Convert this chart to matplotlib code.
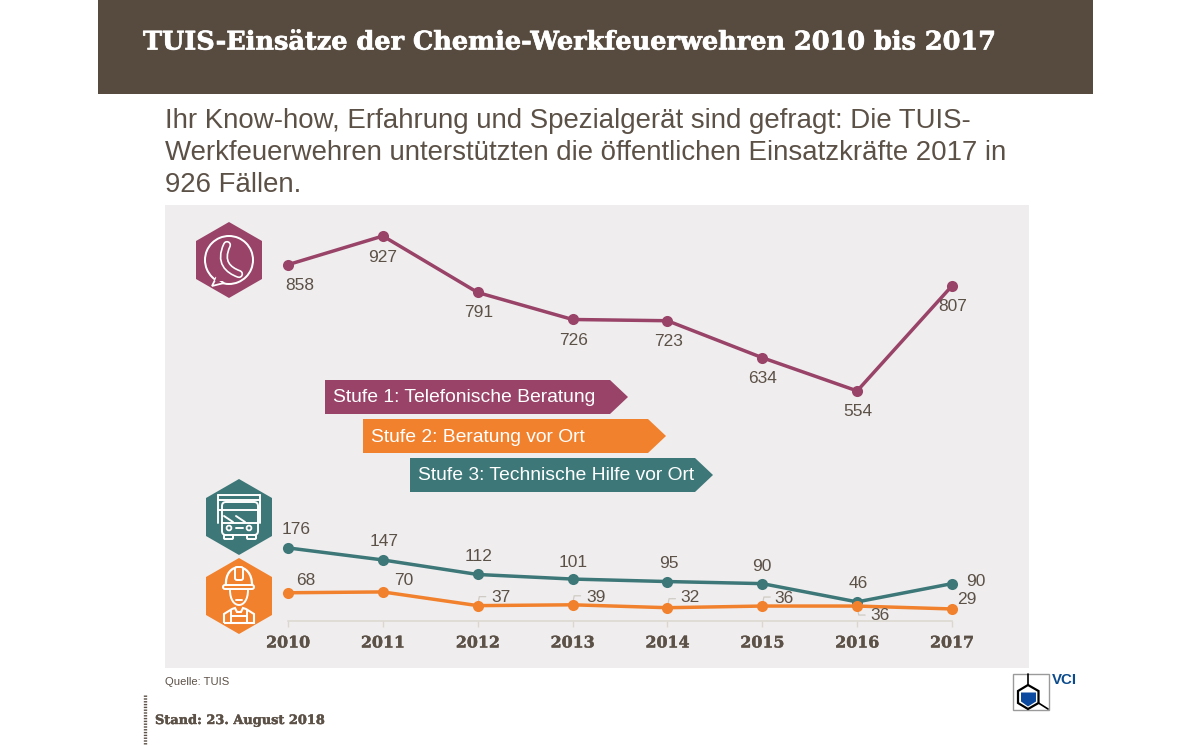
import matplotlib
matplotlib.use('Agg')
import matplotlib.pyplot as plt
import matplotlib.patheffects as pe
from matplotlib.patches import Polygon, Rectangle, Circle, FancyBboxPatch, PathPatch, Wedge
from matplotlib.path import Path

### data ##########

years = [2010, 2011, 2012, 2013, 2014, 2015, 2016, 2017]
stufe1 = [858, 927, 791, 726, 723, 634, 554, 807]
stufe2 = [68, 70, 37, 39, 32, 36, 36, 29]
stufe3 = [176, 147, 112, 101, 95, 90, 46, 90]

title = 'TUIS-Einsätze der Chemie-Werkfeuerwehren 2010 bis 2017'
subtitle = ['Ihr Know-how, Erfahrung und Spezialgerät sind gefragt: Die TUIS-',
            'Werkfeuerwehren unterstützten die öffentlichen Einsatzkräfte 2017 in',
            '926 Fällen.']
legend_labels = ['Stufe 1: Telefonische Beratung', 'Stufe 2: Beratung vor Ort', 'Stufe 3: Technische Hilfe vor Ort']

###################

brown = '#574b40'
text_col = '#5c5147'
panel = '#efedee'
purple = '#984367'
orange = '#f2812d'
teal = '#3d7778'
axis_col = '#dbd7cf'
sans = 'Liberation Sans'
serif = 'DejaVu Serif'

W, H = 1200, 746
fig = plt.figure(figsize=(12, 7.46), dpi=100, facecolor='white')

# background layer, in pixels of the picture
bg = fig.add_axes([0, 0, 1, 1])
bg.set_xlim(0, W)
bg.set_ylim(H, 0)
bg.axis('off')

bg.add_patch(Rectangle((98, 0), 995, 94, color=brown, lw=0))
bg.text(143, 42, title, family=serif, weight='bold', color='white', fontsize=18.4, va='center',
        path_effects=[pe.withStroke(linewidth=0.5, foreground='white')])
for i, line in enumerate(subtitle):
    bg.text(165, 120.5 + i * 32, line, family=sans, color=text_col, fontsize=19.93, va='center')
bg.add_patch(Rectangle((165, 205), 864, 463, color=panel, lw=0))
bg.text(165, 682, 'Quelle: TUIS', family=sans, color=text_col, fontsize=8.1, va='center')
bg.text(155, 720.5, 'Stand: 23. August 2018', family=serif, weight='bold', color=text_col, fontsize=9.3, va='center',
        path_effects=[pe.withStroke(linewidth=0.3, foreground=text_col)])
bg.plot([144.5, 144.5], [695, 745], color=text_col, lw=2.4, ls=(0, (0.42, 0.42)))


def hexagon(cx, cy, color):
    rx, ry = 33, 38
    pts = [(cx, cy - ry), (cx + rx, cy - ry / 2), (cx + rx, cy + ry / 2),
           (cx, cy + ry), (cx - rx, cy + ry / 2), (cx - rx, cy - ry / 2)]
    bg.add_patch(Polygon(pts, closed=True, color=color, lw=0))


def stroke(xs, ys, lw=1.4, color='white'):
    bg.plot(xs, ys, color=color, lw=lw, solid_capstyle='round', solid_joinstyle='round')


def box(x, y, w, h, color, lw=1.4, r=2):
    bg.add_patch(FancyBboxPatch((x, y), w, h, boxstyle=f'round,pad=0,rounding_size={r}',
                                fc=color, ec='white', lw=lw))


def curve(points, lw=1.4, fc='none'):
    codes = [Path.MOVETO, Path.CURVE4, Path.CURVE4, Path.CURVE4]
    bg.add_patch(PathPatch(Path(points, codes), fc=fc, ec='white', lw=lw))


# telephone icon
hexagon(229, 260, purple)
bg.add_patch(Wedge((229, 260), 25, 0, 360, width=2, color='white', lw=0))
bg.add_patch(Polygon([(216, 278), (212, 286), (224, 283)], closed=True, fc=purple, ec='white', lw=1.3))
bg.add_patch(Polygon([(217, 275), (215, 281), (224, 281), (224, 276)], closed=True, color=purple, lw=0))
handset = Path([(227, 245), (219, 262), (228, 270), (239, 274)],
               [Path.MOVETO, Path.CURVE4, Path.CURVE4, Path.CURVE4])
bg.add_patch(PathPatch(handset, fc='none', ec='white', lw=6, capstyle='round'))
bg.add_patch(PathPatch(handset, fc='none', ec=purple, lw=3.6, capstyle='round'))

# truck icon
hexagon(239, 517, teal)
stroke([218, 260], [495, 495])
stroke([218, 218], [495, 523])
stroke([260, 260], [495, 523])
stroke([218, 260], [500, 500])
stroke([218, 260], [510, 510])
box(222, 502, 36, 33, teal, r=4)
stroke([222, 258], [523, 523])
stroke([224, 233], [516, 522])
stroke([236, 245], [516, 522])
box(224, 535, 9, 4, teal, r=1)
box(247, 535, 9, 4, teal, r=1)
bg.add_patch(Circle((229, 528), 2.4, fc=teal, ec='white', lw=1.3))
bg.add_patch(Circle((249, 528), 2.4, fc=teal, ec='white', lw=1.3))
stroke([236, 243], [528, 528])

# firefighter icon
hexagon(239, 596, orange)
curve([(230, 590), (230, 610), (248, 610), (248, 590)])
curve([(226, 586), (224, 561), (253, 561), (252, 586)], lw=1.6)
box(223, 585, 31, 4, orange, r=2)
box(235, 567, 8, 13, orange, r=2)
stroke([236, 242], [600, 600])
body = Path([(224, 623), (224, 614), (232, 609), (235, 608), (237, 612), (241, 612), (243, 608),
             (246, 609), (254, 614), (254, 623), (224, 623)])
bg.add_patch(PathPatch(body, fc='none', ec='white', lw=1.5))
stroke([231, 231], [610, 623])
stroke([247, 247], [610, 623])
stroke([231, 247], [616, 616])

# legend banners
starts = [325, 363, 410]
tops = [380, 419, 458]
for lab, col, x, y in zip(legend_labels, [purple, orange, teal], starts, tops):
    pts = [(x, y), (x + 285, y), (x + 303, y + 17), (x + 285, y + 34), (x, y + 34)]
    bg.add_patch(Polygon(pts, closed=True, color=col, lw=0))
    bg.text(x + 8, y + 18, lab, family=sans, color='white', fontsize=13.85, va='center')

# VCI logo
bg.add_patch(Rectangle((1012.5, 673.5), 36, 36.5, fc='white', ec='#9a9a9a', lw=1))
bg.add_patch(Polygon([(1028, 685), (1038.5, 691), (1038.5, 703), (1028, 709), (1018, 703), (1018, 691)],
                     closed=True, fc='white', ec='black', lw=1.6))
bg.add_patch(Polygon([(1021, 692.5), (1036, 692.5), (1036, 701.5), (1028, 706.5), (1021, 701.5)],
                     closed=True, color='#0b4a9e', lw=0))
stroke([1028, 1028], [674, 685], lw=1.2, color='black')
stroke([1038.5, 1048], [703, 709], lw=1.2, color='black')
bg.text(1052, 680.5, 'VCI', family=sans, weight='bold', color='#0b4a8c', fontsize=10.8, va='center')

# chart layer, spans the grey panel
px_per_year = (952 - 288) / 7
px_per_unit = 0.4153
zero_y = 621
ax = fig.add_axes([165 / W, 1 - 668 / H, 864 / W, 463 / H], facecolor='none')
ax.set_xlim(2010 - (288 - 165) / px_per_year, 2010 + (1029 - 288) / px_per_year)
ax.set_ylim((zero_y - 668) / px_per_unit, (zero_y - 205) / px_per_unit)

for values, col in [(stufe1, purple), (stufe3, teal), (stufe2, orange)]:
    ax.plot(years, values, color=col, lw=2.5, marker='o', ms=8, mew=0, zorder=3)

for side in ['top', 'left', 'right']:
    ax.spines[side].set_visible(False)
ax.spines['bottom'].set_position(('data', 0))
ax.spines['bottom'].set_bounds(2010, 2017)
ax.spines['bottom'].set_color(axis_col)
ax.spines['bottom'].set_linewidth(1.1)
ax.set_yticks([])
ax.set_xticks(years)
ax.set_xticklabels(years, family=serif, weight='bold', fontsize=11.4, color=text_col,
                   path_effects=[pe.withStroke(linewidth=0.3, foreground=text_col)])
ax.tick_params(axis='x', length=4, width=1, color=axis_col, pad=5.7)


def labels(values, offsets):
    # offsets in picture pixels from the point, x to the right and y downwards
    for yr, v, (dx, dy) in zip(years, values, offsets):
        ax.annotate(str(v), (yr, v), xytext=((dx + 1) * 0.72, -dy * 0.72), textcoords='offset points',
                    family=sans, fontsize=12.5, color=text_col, ha='center', va='center', zorder=5)


labels(stufe1, [(11, 21), (-1, 21), (0, 20), (0, 21), (0, 21), (-1, 21), (0, 21), (0, 21)])
labels(stufe3, [(7, -18), (0, -18), (0, -18), (0, -17), (0, -18), (-1, -17), (0, -18), (23, -2)])
labels(stufe2, [(17, -12), (20, -11), (22, -8), (22, -7), (22, -10), (21, -8), (22, 9), (14, -9)])

# small leader lines of the orange labels
for i in [2, 3, 4, 5, 6]:
    sign = -1 if i == 6 else 1
    ax.annotate('', (years[i], stufe2[i]), xytext=(8 * 0.72, sign * 9 * 0.72), textcoords='offset points',
                arrowprops=dict(arrowstyle='-', color='#cfcbc4', lw=0.9, shrinkA=0, shrinkB=0,
                                connectionstyle=f'angle,angleA=0,angleB={80 * sign},rad=0'), zorder=2)

plt.savefig('out.png', dpi=100, facecolor='white')
plt.close()
